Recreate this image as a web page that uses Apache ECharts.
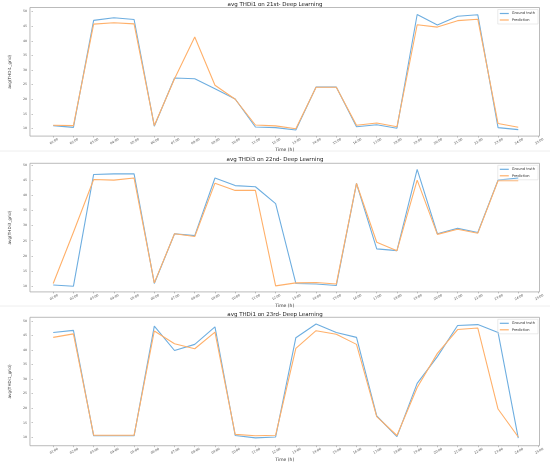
<!DOCTYPE html>
<html>
<head>
<meta charset="utf-8">
<script src="https://cdn.jsdelivr.net/npm/echarts@6/dist/echarts.min.js"></script>
<style>
  html, body { margin: 0; padding: 0; background: #fff; }
  #chart { width: 550px; height: 463px; }
</style>
</head>
<body>
<div id="chart"></div>
<script>
// hours of the day (x values) and tick values
const hours = [1, 2, 3, 4, 5, 6, 7, 8, 9, 10, 11, 12, 13, 14, 15, 16, 17, 18, 19, 20, 21, 22, 23, 24]
const timeTicks = [1, 2, 3, 4, 5, 6, 7, 8, 9, 10, 11, 12, 13, 14, 15, 16, 17, 18, 19, 20, 21, 22, 23, 24, 25]
const yTicks = [10, 15, 20, 25, 30, 35, 40, 45, 50]

const titles = ['avg THDi1 on 21st- Deep Learning', 'avg THDi3 on 22nd- Deep Learning', 'avg THDi1 on 23rd- Deep Learning']
const yNames = ['avg(THDi1_grid)', 'avg(THDi3_grid)', 'avg(THDi1_grid)']

// 21st
const gt21 = [11.0, 10.4, 47.0, 47.9, 47.3, 10.8, 27.3, 27.0, 23.6, 20.1, 10.5, 10.3, 9.5, 24.2, 24.2, 10.6, 11.3, 10.1, 49.0, 45.4, 48.4, 48.9, 10.3, 9.6]
const pred21 = [11.1, 11.0, 45.7, 46.2, 45.8, 11.0, 27.0, 41.3, 24.8, 20.0, 11.2, 10.9, 9.9, 24.1, 24.1, 11.1, 11.9, 10.6, 45.5, 44.7, 46.9, 47.4, 11.7, 10.4]

// 22nd
const gt22 = [10.3, 9.9, 47.0, 47.2, 47.2, 10.8, 27.3, 26.7, 45.8, 43.3, 42.9, 37.3, 10.8, 10.6, 10.1, 44.0, 22.3, 21.7, 48.7, 27.3, 29.1, 27.7, 45.1, 45.8]
const pred22 = [10.8, 27.8, 45.3, 45.1, 45.8, 11.0, 27.3, 26.4, 44.1, 41.7, 41.7, 10.0, 11.0, 11.1, 10.6, 44.0, 24.5, 21.7, 45.1, 27.1, 28.8, 27.5, 44.9, 44.9]

// 23rd
const gt23 = [46.0, 46.7, 10.5, 10.5, 10.5, 48.2, 39.8, 41.9, 47.9, 10.6, 9.8, 10.1, 44.2, 48.9, 46.0, 44.3, 17.3, 10.2, 28.5, 37.7, 48.4, 48.7, 46.0, 9.7]
const pred23 = [44.3, 45.5, 10.7, 10.7, 10.7, 46.5, 42.1, 40.4, 46.1, 11.0, 10.5, 10.7, 40.5, 46.6, 45.4, 41.9, 17.1, 10.6, 27.1, 38.8, 47.0, 47.5, 19.7, 10.1]

const days = [[gt21, pred21], [gt22, pred22], [gt23, pred23]]
const yRanges = [[7.4, 51.4], [8.0, 50.7], [7.1, 51.2]]
const gridTops = [7.5, 163.3, 317.3]
const gridHeight = 128.6
const titleTops = [2, 157, 312]

const font = 'DejaVu Sans'
const blue = '#6eaee0'
const orange = '#ffb06a'

const chart = echarts.init(document.getElementById('chart'))

const pad = n => (n < 10 ? '0' : '') + n + ':00'

chart.setOption({
  animation: false,
  title: titles.map((t, i) => ({
    text: t,
    left: 'center',
    top: titleTops[i],
    padding: 0,
    textStyle: { fontFamily: font, fontSize: 5.5, fontWeight: 'normal', color: '#222' }
  })),
  legend: gridTops.map(top => ({
    data: ['Ground truth', 'Prediction'],
    orient: 'vertical',
    right: 12,
    top: top + 2,
    icon: 'rect',
    itemWidth: 9,
    itemHeight: 1.2,
    itemGap: 2.5,
    padding: [2, 3, 2, 2],
    borderColor: '#ddd',
    borderWidth: 0.6,
    textStyle: { fontFamily: font, fontSize: 3.6, color: '#333', padding: [0, 0, 0, -2] }
  })),
  graphic: [
    { type: 'line', shape: { x1: 0, y1: 151, x2: 550, y2: 151 }, style: { stroke: '#eee', lineWidth: 1 } },
    { type: 'line', shape: { x1: 0, y1: 306, x2: 550, y2: 306 }, style: { stroke: '#eee', lineWidth: 1 } }
  ],
  grid: gridTops.map(top => ({
    left: 15,
    right: 10.5,
    top: top,
    height: gridHeight,
    show: true,
    borderColor: '#aaa',
    borderWidth: 0.8
  })),
  xAxis: gridTops.map((_, i) => ({
    type: 'value',
    gridIndex: i,
    min: -0.15,
    max: 25.05,
    name: 'Time (h)',
    nameLocation: 'middle',
    nameGap: 10,
    nameTextStyle: { fontFamily: font, fontSize: 4.5, color: '#333' },
    axisLine: { show: false },
    axisTick: { show: true, length: 1.5, lineStyle: { color: '#888', width: 0.5 }, customValues: timeTicks },
    axisLabel: {
      customValues: timeTicks,
      formatter: v => pad(v),
      rotate: 30,
      align: 'center',
      verticalAlign: 'top',
      margin: 4,
      fontFamily: font,
      fontSize: 3.2,
      color: '#555'
    },
    splitLine: { show: false }
  })),
  yAxis: gridTops.map((_, i) => ({
    type: 'value',
    gridIndex: i,
    min: yRanges[i][0],
    max: yRanges[i][1],
    name: yNames[i],
    nameLocation: 'middle',
    nameGap: 9,
    nameTextStyle: { fontFamily: font, fontSize: 4.2, color: '#333' },
    axisLine: { show: false },
    axisTick: { show: true, length: 1.5, lineStyle: { color: '#888', width: 0.5 }, customValues: yTicks },
    axisLabel: {
      customValues: yTicks,
      margin: 3,
      fontFamily: font,
      fontSize: 3.2,
      color: '#555'
    },
    splitLine: { show: false }
  })),
  series: days.flatMap(([gt, pred], i) => [
    {
      name: 'Ground truth',
      type: 'line',
      xAxisIndex: i,
      yAxisIndex: i,
      data: hours.map((h, k) => [h, gt[k]]),
      symbol: 'none',
      color: blue,
      lineStyle: { color: blue, width: 1.1 }
    },
    {
      name: 'Prediction',
      type: 'line',
      xAxisIndex: i,
      yAxisIndex: i,
      data: hours.map((h, k) => [h, pred[k]]),
      symbol: 'none',
      color: orange,
      lineStyle: { color: orange, width: 1.1 }
    }
  ])
})
</script>
</body>
</html>
